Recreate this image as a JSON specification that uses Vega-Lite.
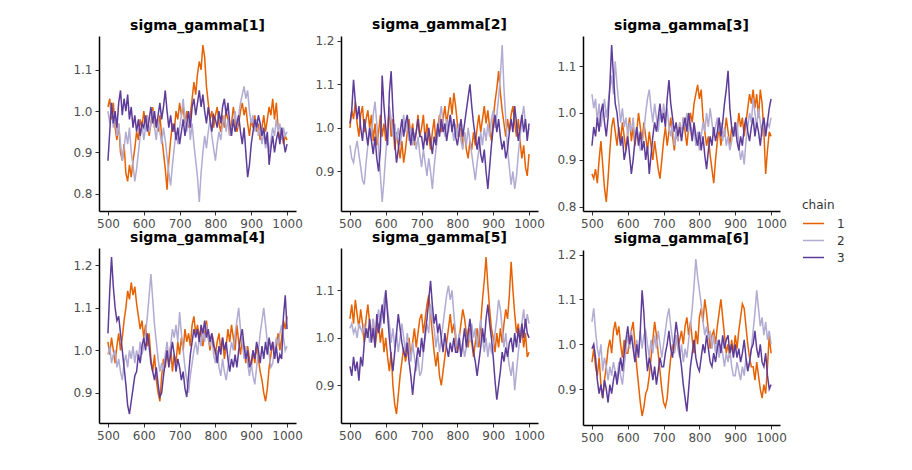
{
"$schema":"https://vega.github.io/schema/vega-lite/v6.json",
"padding":{"left":72,"top":17,"right":5,"bottom":5},
"background":"white",
"data":{"values":[
{"i":500,"c":1,"1":1.01,"2":1.00,"3":0.87,"4":1.02,"5":1.04,"6":0.96},
{"i":505,"c":1,"1":1.03,"2":1.04,"3":0.86,"4":0.99,"5":1.07,"6":0.99},
{"i":510,"c":1,"1":0.98,"2":1.02,"3":0.88,"4":1.03,"5":1.03,"6":0.95},
{"i":515,"c":1,"1":1.02,"2":1.06,"3":0.85,"4":1.00,"5":1.08,"6":0.93},
{"i":520,"c":1,"1":0.96,"2":1.01,"3":0.90,"4":0.97,"5":1.05,"6":0.97},
{"i":525,"c":1,"1":0.93,"2":0.98,"3":0.94,"4":1.01,"5":1.02,"6":0.91},
{"i":530,"c":1,"1":0.97,"2":1.03,"3":0.89,"4":1.04,"5":1.06,"6":0.88},
{"i":535,"c":1,"1":0.90,"2":1.05,"3":0.84,"4":1.00,"5":1.03,"6":0.92},
{"i":540,"c":1,"1":0.88,"2":0.99,"3":0.81,"4":1.03,"5":0.99,"6":0.95},
{"i":545,"c":1,"1":0.92,"2":1.02,"3":0.86,"4":1.07,"5":1.04,"6":0.99},
{"i":550,"c":1,"1":0.85,"2":1.04,"3":0.92,"4":1.10,"5":1.07,"6":1.01},
{"i":555,"c":1,"1":0.83,"2":1.00,"3":0.97,"4":1.14,"5":1.03,"6":0.98},
{"i":560,"c":1,"1":0.87,"2":1.03,"3":0.99,"4":1.12,"5":1.00,"6":1.03},
{"i":565,"c":1,"1":0.84,"2":0.97,"3":0.96,"4":1.16,"5":1.04,"6":1.05},
{"i":570,"c":1,"1":0.88,"2":1.01,"3":0.93,"4":1.13,"5":0.98,"6":1.02},
{"i":575,"c":1,"1":0.91,"2":0.96,"3":0.97,"4":1.15,"5":1.01,"6":1.04},
{"i":580,"c":1,"1":0.95,"2":0.99,"3":0.94,"4":1.11,"5":1.03,"6":1.00},
{"i":585,"c":1,"1":0.93,"2":1.03,"3":0.98,"4":1.08,"5":0.99,"6":0.97},
{"i":590,"c":1,"1":0.98,"2":0.98,"3":0.95,"4":1.05,"5":1.02,"6":1.01},
{"i":595,"c":1,"1":0.96,"2":1.01,"3":0.92,"4":1.07,"5":0.97,"6":0.98},
{"i":600,"c":1,"1":1.00,"2":0.97,"3":0.96,"4":1.03,"5":1.00,"6":0.98},
{"i":605,"c":1,"1":0.97,"2":1.00,"3":0.99,"4":1.06,"5":0.96,"6":1.01},
{"i":610,"c":1,"1":0.99,"2":1.04,"3":0.94,"4":1.01,"5":0.93,"6":1.03},
{"i":615,"c":1,"1":0.94,"2":0.98,"3":0.97,"4":1.04,"5":0.97,"6":1.05},
{"i":620,"c":1,"1":0.97,"2":1.02,"3":0.93,"4":0.98,"5":0.90,"6":1.00},
{"i":625,"c":1,"1":1.01,"2":0.95,"3":0.96,"4":0.95,"5":0.86,"6":0.95},
{"i":630,"c":1,"1":0.96,"2":0.99,"3":1.00,"4":0.99,"5":0.84,"6":0.91},
{"i":635,"c":1,"1":0.98,"2":0.96,"3":0.97,"4":0.93,"5":0.88,"6":0.87},
{"i":640,"c":1,"1":0.95,"2":0.93,"3":0.94,"4":0.90,"5":0.92,"6":0.84},
{"i":645,"c":1,"1":0.99,"2":0.97,"3":0.98,"4":0.88,"5":0.95,"6":0.86},
{"i":650,"c":1,"1":0.94,"2":0.92,"3":0.95,"4":0.94,"5":0.98,"6":0.89},
{"i":655,"c":1,"1":0.90,"2":0.95,"3":0.92,"4":0.98,"5":0.95,"6":0.90},
{"i":660,"c":1,"1":0.86,"2":0.99,"3":0.96,"4":0.96,"5":0.97,"6":0.93},
{"i":665,"c":1,"1":0.81,"2":1.02,"3":0.93,"4":1.00,"5":1.00,"6":0.97},
{"i":670,"c":1,"1":0.88,"2":0.98,"3":0.90,"4":0.97,"5":0.96,"6":1.01},
{"i":675,"c":1,"1":0.93,"2":1.01,"3":0.94,"4":1.01,"5":0.99,"6":1.05},
{"i":680,"c":1,"1":0.97,"2":0.96,"3":0.91,"4":0.95,"5":1.02,"6":1.02},
{"i":685,"c":1,"1":0.95,"2":0.99,"3":0.88,"4":0.99,"5":0.98,"6":0.98},
{"i":690,"c":1,"1":1.00,"2":1.03,"3":0.86,"4":0.97,"5":1.01,"6":0.94},
{"i":695,"c":1,"1":0.98,"2":0.98,"3":0.90,"4":1.02,"5":1.04,"6":0.90},
{"i":700,"c":1,"1":1.02,"2":1.00,"3":0.94,"4":0.99,"5":1.05,"6":0.87},
{"i":705,"c":1,"1":0.99,"2":1.03,"3":0.97,"4":1.03,"5":1.01,"6":0.86},
{"i":710,"c":1,"1":1.01,"2":0.97,"3":0.93,"4":1.00,"5":1.04,"6":0.88},
{"i":715,"c":1,"1":0.97,"2":1.01,"3":0.96,"4":1.05,"5":1.07,"6":0.93},
{"i":720,"c":1,"1":1.00,"2":0.98,"3":0.99,"4":1.02,"5":1.09,"6":0.97},
{"i":725,"c":1,"1":0.96,"2":0.95,"3":0.95,"4":1.04,"5":1.05,"6":1.00},
{"i":730,"c":1,"1":0.99,"2":0.99,"3":0.92,"4":1.01,"5":1.01,"6":0.98},
{"i":735,"c":1,"1":1.03,"2":1.02,"3":0.96,"4":1.06,"5":0.97,"6":1.02},
{"i":740,"c":1,"1":1.07,"2":0.97,"3":0.94,"4":1.08,"5":0.94,"6":0.99},
{"i":745,"c":1,"1":1.04,"2":1.00,"3":0.98,"4":1.04,"5":0.97,"6":1.01},
{"i":750,"c":1,"1":1.09,"2":1.03,"3":0.95,"4":1.06,"5":0.92,"6":1.03},
{"i":755,"c":1,"1":1.12,"2":0.99,"3":0.99,"4":1.03,"5":0.90,"6":1.00},
{"i":760,"c":1,"1":1.10,"2":1.02,"3":0.96,"4":1.05,"5":0.93,"6":1.04},
{"i":765,"c":1,"1":1.16,"2":1.05,"3":0.93,"4":1.01,"5":0.96,"6":1.06},
{"i":770,"c":1,"1":1.13,"2":1.01,"3":0.97,"4":1.04,"5":0.99,"6":1.02},
{"i":775,"c":1,"1":1.06,"2":1.04,"3":1.00,"4":1.07,"5":1.02,"6":1.05},
{"i":780,"c":1,"1":1.02,"2":1.07,"3":0.98,"4":1.03,"5":1.05,"6":1.01},
{"i":785,"c":1,"1":0.98,"2":1.03,"3":1.02,"4":1.00,"5":1.01,"6":0.98},
{"i":790,"c":1,"1":1.00,"2":1.08,"3":1.04,"4":1.04,"5":1.03,"6":1.03},
{"i":795,"c":1,"1":0.96,"2":1.05,"3":1.06,"4":1.02,"5":1.00,"6":1.00},
{"i":800,"c":1,"1":0.99,"2":1.01,"3":1.03,"4":0.99,"5":0.97,"6":1.06},
{"i":805,"c":1,"1":1.01,"2":0.98,"3":1.05,"4":1.02,"5":1.00,"6":1.08},
{"i":810,"c":1,"1":0.97,"2":1.00,"3":0.99,"4":1.04,"5":1.03,"6":1.05},
{"i":815,"c":1,"1":0.95,"2":0.96,"3":0.96,"4":1.00,"5":1.06,"6":1.10},
{"i":820,"c":1,"1":0.99,"2":0.99,"3":0.93,"4":1.03,"5":1.04,"6":1.07},
{"i":825,"c":1,"1":0.96,"2":0.95,"3":0.95,"4":0.98,"5":1.01,"6":1.03},
{"i":830,"c":1,"1":1.00,"2":0.93,"3":0.91,"4":1.01,"5":0.98,"6":0.99},
{"i":835,"c":1,"1":0.98,"2":0.97,"3":0.88,"4":1.05,"5":1.02,"6":1.02},
{"i":840,"c":1,"1":0.94,"2":0.95,"3":0.85,"4":1.02,"5":0.99,"6":1.03},
{"i":845,"c":1,"1":0.97,"2":0.99,"3":0.90,"4":1.06,"5":0.96,"6":1.00},
{"i":850,"c":1,"1":1.01,"2":0.96,"3":0.94,"4":1.03,"5":0.99,"6":1.04},
{"i":855,"c":1,"1":0.98,"2":1.00,"3":0.97,"4":1.00,"5":1.02,"6":1.07},
{"i":860,"c":1,"1":0.95,"2":1.03,"3":0.93,"4":1.06,"5":0.98,"6":1.10},
{"i":865,"c":1,"1":0.97,"2":0.99,"3":0.96,"4":1.02,"5":1.03,"6":1.06},
{"i":870,"c":1,"1":1.00,"2":1.02,"3":0.95,"4":0.99,"5":1.08,"6":1.02},
{"i":875,"c":1,"1":1.02,"2":1.05,"3":0.99,"4":1.03,"5":1.12,"6":0.98},
{"i":880,"c":1,"1":0.99,"2":1.01,"3":0.96,"4":1.00,"5":1.17,"6":1.00},
{"i":885,"c":1,"1":1.01,"2":1.04,"3":0.93,"4":0.97,"5":1.11,"6":0.97},
{"i":890,"c":1,"1":0.97,"2":1.00,"3":0.97,"4":1.01,"5":1.06,"6":1.01},
{"i":895,"c":1,"1":0.94,"2":0.97,"3":0.95,"4":0.98,"5":1.02,"6":0.98},
{"i":900,"c":1,"1":0.98,"2":1.02,"3":0.98,"4":0.96,"5":1.00,"6":1.02},
{"i":905,"c":1,"1":0.96,"2":1.06,"3":0.96,"4":1.00,"5":0.97,"6":0.99},
{"i":910,"c":1,"1":0.99,"2":1.09,"3":1.00,"4":0.97,"5":1.01,"6":1.03},
{"i":915,"c":1,"1":0.95,"2":1.13,"3":0.97,"4":1.01,"5":0.98,"6":1.06},
{"i":920,"c":1,"1":0.97,"2":1.08,"3":0.99,"4":0.98,"5":1.02,"6":1.09},
{"i":925,"c":1,"1":0.93,"2":1.04,"3":0.95,"4":0.95,"5":0.99,"6":1.08},
{"i":930,"c":1,"1":0.96,"2":1.01,"3":0.98,"4":0.93,"5":1.03,"6":1.04},
{"i":935,"c":1,"1":0.99,"2":0.98,"3":1.01,"4":0.90,"5":1.06,"6":1.00},
{"i":940,"c":1,"1":0.95,"2":1.02,"3":1.04,"4":0.88,"5":1.04,"6":0.97},
{"i":945,"c":1,"1":0.98,"2":0.99,"3":1.02,"4":0.91,"5":1.09,"6":0.95},
{"i":950,"c":1,"1":1.01,"2":1.03,"3":1.05,"4":0.96,"5":1.16,"6":0.95},
{"i":955,"c":1,"1":0.99,"2":1.05,"3":1.01,"4":0.99,"5":1.10,"6":0.92},
{"i":960,"c":1,"1":1.03,"2":1.01,"3":1.04,"4":1.02,"5":1.05,"6":0.96},
{"i":965,"c":1,"1":0.98,"2":0.98,"3":0.99,"4":0.98,"5":1.01,"6":0.93},
{"i":970,"c":1,"1":1.02,"2":1.02,"3":1.05,"4":1.01,"5":1.03,"6":0.90},
{"i":975,"c":1,"1":0.96,"2":0.97,"3":1.02,"4":1.04,"5":0.99,"6":0.88},
{"i":980,"c":1,"1":0.93,"2":0.93,"3":0.96,"4":1.00,"5":1.02,"6":0.91},
{"i":985,"c":1,"1":0.95,"2":0.96,"3":0.87,"4":1.03,"5":0.98,"6":0.89},
{"i":990,"c":1,"1":0.92,"2":0.91,"3":0.92,"4":1.07,"5":1.01,"6":0.95},
{"i":995,"c":1,"1":0.94,"2":0.89,"3":0.96,"4":1.05,"5":0.96,"6":1.02},
{"i":1000,"c":1,"1":0.93,"2":0.94,"3":0.95,"4":1.08,"5":0.97,"6":0.98},
{"i":500,"c":2,"1":1.00,"2":0.96,"3":1.04,"4":0.99,"5":1.02,"6":1.05},
{"i":505,"c":2,"1":0.97,"2":0.93,"3":1.01,"4":1.01,"5":1.03,"6":1.08},
{"i":510,"c":2,"1":1.02,"2":0.92,"3":1.03,"4":0.97,"5":1.01,"6":1.03},
{"i":515,"c":2,"1":0.96,"2":0.95,"3":0.98,"4":0.99,"5":1.02,"6":0.99},
{"i":520,"c":2,"1":0.99,"2":0.97,"3":1.02,"4":1.00,"5":1.00,"6":0.97},
{"i":525,"c":2,"1":0.94,"2":0.94,"3":0.97,"4":0.96,"5":1.03,"6":1.00},
{"i":530,"c":2,"1":0.97,"2":0.91,"3":1.00,"4":0.98,"5":1.02,"6":0.94},
{"i":535,"c":2,"1":0.92,"2":0.88,"3":1.03,"4":0.95,"5":1.01,"6":0.97},
{"i":540,"c":2,"1":0.88,"2":0.87,"3":0.99,"4":0.93,"5":1.03,"6":0.95},
{"i":545,"c":2,"1":0.91,"2":0.92,"3":1.02,"4":0.97,"5":1.00,"6":0.92},
{"i":550,"c":2,"1":0.95,"2":0.96,"3":1.05,"4":0.99,"5":1.02,"6":0.95},
{"i":555,"c":2,"1":0.92,"2":1.00,"3":1.08,"4":0.96,"5":0.99,"6":0.93},
{"i":560,"c":2,"1":0.96,"2":0.98,"3":1.04,"4":1.00,"5":1.01,"6":0.96},
{"i":565,"c":2,"1":0.90,"2":1.03,"3":1.11,"4":0.98,"5":1.04,"6":0.94},
{"i":570,"c":2,"1":0.87,"2":1.06,"3":1.06,"4":1.01,"5":1.00,"6":0.92},
{"i":575,"c":2,"1":0.83,"2":1.01,"3":1.02,"4":0.97,"5":1.03,"6":0.96},
{"i":580,"c":2,"1":0.86,"2":0.95,"3":0.98,"4":1.00,"5":1.06,"6":0.93},
{"i":585,"c":2,"1":0.90,"2":0.89,"3":1.01,"4":0.98,"5":1.02,"6":0.91},
{"i":590,"c":2,"1":0.94,"2":0.83,"3":0.97,"4":1.02,"5":1.05,"6":0.95},
{"i":595,"c":2,"1":0.97,"2":0.88,"3":0.99,"4":0.99,"5":1.08,"6":0.99},
{"i":600,"c":2,"1":0.93,"2":0.94,"3":0.95,"4":1.01,"5":1.10,"6":1.02},
{"i":605,"c":2,"1":0.96,"2":0.99,"3":0.98,"4":1.04,"5":1.06,"6":0.99},
{"i":610,"c":2,"1":0.99,"2":1.05,"3":0.96,"4":1.08,"5":1.03,"6":1.03},
{"i":615,"c":2,"1":0.95,"2":1.02,"3":0.99,"4":1.13,"5":0.99,"6":1.00},
{"i":620,"c":2,"1":0.97,"2":0.98,"3":0.94,"4":1.18,"5":1.02,"6":0.97},
{"i":625,"c":2,"1":1.00,"2":1.01,"3":0.97,"4":1.12,"5":0.98,"6":1.01},
{"i":630,"c":2,"1":0.96,"2":0.97,"3":0.95,"4":1.06,"5":1.01,"6":0.98},
{"i":635,"c":2,"1":0.93,"2":1.00,"3":0.92,"4":1.02,"5":0.97,"6":1.03},
{"i":640,"c":2,"1":0.98,"2":0.96,"3":0.93,"4":0.98,"5":1.00,"6":0.99},
{"i":645,"c":2,"1":0.95,"2":0.99,"3":0.96,"4":0.95,"5":1.03,"6":1.02},
{"i":650,"c":2,"1":0.92,"2":1.03,"3":1.00,"4":0.97,"5":1.00,"6":1.03},
{"i":655,"c":2,"1":0.96,"2":0.99,"3":1.03,"4":0.95,"5":0.97,"6":1.00},
{"i":660,"c":2,"1":0.93,"2":1.02,"3":1.05,"4":0.99,"5":1.01,"6":0.97},
{"i":665,"c":2,"1":0.89,"2":0.97,"3":1.01,"4":1.02,"5":0.98,"6":1.01},
{"i":670,"c":2,"1":0.85,"2":1.00,"3":0.98,"4":0.98,"5":0.95,"6":0.98},
{"i":675,"c":2,"1":0.82,"2":0.96,"3":1.02,"4":1.01,"5":0.99,"6":1.02},
{"i":680,"c":2,"1":0.87,"2":0.99,"3":0.99,"4":1.05,"5":0.96,"6":0.99},
{"i":685,"c":2,"1":0.91,"2":0.95,"3":0.96,"4":1.03,"5":0.93,"6":1.03},
{"i":690,"c":2,"1":0.95,"2":0.98,"3":1.00,"4":1.06,"5":0.96,"6":1.00},
{"i":695,"c":2,"1":0.92,"2":0.94,"3":0.98,"4":1.02,"5":0.92,"6":0.97},
{"i":700,"c":2,"1":0.96,"2":0.91,"3":1.02,"4":1.09,"5":0.93,"6":1.00},
{"i":705,"c":2,"1":0.99,"2":0.95,"3":0.99,"4":1.04,"5":0.97,"6":1.03},
{"i":710,"c":2,"1":1.03,"2":0.92,"3":1.01,"4":1.00,"5":1.00,"6":1.06},
{"i":715,"c":2,"1":0.98,"2":0.89,"3":0.97,"4":0.96,"5":1.03,"6":1.08},
{"i":720,"c":2,"1":0.95,"2":0.93,"3":0.95,"4":0.93,"5":1.01,"6":1.04},
{"i":725,"c":2,"1":0.99,"2":0.90,"3":0.98,"4":0.90,"5":1.07,"6":1.01},
{"i":730,"c":2,"1":0.93,"2":0.86,"3":0.93,"4":0.94,"5":1.04,"6":0.98},
{"i":735,"c":2,"1":0.97,"2":0.91,"3":0.96,"4":0.97,"5":1.02,"6":1.02},
{"i":740,"c":2,"1":0.92,"2":0.95,"3":0.94,"4":1.00,"5":0.98,"6":0.99},
{"i":745,"c":2,"1":0.88,"2":0.98,"3":0.98,"4":1.02,"5":1.01,"6":0.97},
{"i":750,"c":2,"1":0.84,"2":1.02,"3":0.95,"4":0.99,"5":0.97,"6":1.00},
{"i":755,"c":2,"1":0.78,"2":1.05,"3":0.99,"4":1.03,"5":1.00,"6":0.96},
{"i":760,"c":2,"1":0.85,"2":1.01,"3":0.97,"4":1.01,"5":1.03,"6":0.99},
{"i":765,"c":2,"1":0.90,"2":0.98,"3":1.00,"4":1.05,"5":1.06,"6":0.97},
{"i":770,"c":2,"1":0.94,"2":1.02,"3":0.96,"4":1.02,"5":1.09,"6":1.01},
{"i":775,"c":2,"1":0.91,"2":0.99,"3":0.98,"4":1.06,"5":1.11,"6":1.04},
{"i":780,"c":2,"1":0.95,"2":1.03,"3":0.95,"4":1.03,"5":1.08,"6":1.08},
{"i":785,"c":2,"1":0.98,"2":1.00,"3":0.97,"4":1.01,"5":1.10,"6":1.13},
{"i":790,"c":2,"1":0.94,"2":0.97,"3":0.93,"4":1.04,"5":1.05,"6":1.19},
{"i":795,"c":2,"1":0.91,"2":1.01,"3":0.96,"4":0.99,"5":1.01,"6":1.15},
{"i":800,"c":2,"1":0.88,"2":0.98,"3":0.92,"4":0.97,"5":0.98,"6":1.12},
{"i":805,"c":2,"1":0.92,"2":1.01,"3":0.95,"4":1.00,"5":1.01,"6":1.09},
{"i":810,"c":2,"1":0.95,"2":0.97,"3":0.98,"4":0.96,"5":0.96,"6":1.05},
{"i":815,"c":2,"1":0.93,"2":0.95,"3":0.96,"4":0.94,"5":0.99,"6":1.02},
{"i":820,"c":2,"1":0.97,"2":0.99,"3":1.00,"4":0.98,"5":0.96,"6":1.04},
{"i":825,"c":2,"1":0.99,"2":0.96,"3":0.97,"4":0.95,"5":0.98,"6":1.01},
{"i":830,"c":2,"1":0.95,"2":1.00,"3":1.01,"4":0.93,"5":1.02,"6":1.03},
{"i":835,"c":2,"1":0.98,"2":0.97,"3":0.98,"4":0.96,"5":0.99,"6":0.99},
{"i":840,"c":2,"1":0.94,"2":0.94,"3":0.95,"4":0.99,"5":1.03,"6":1.02},
{"i":845,"c":2,"1":0.96,"2":0.91,"3":0.97,"4":1.02,"5":1.00,"6":0.98},
{"i":850,"c":2,"1":0.97,"2":0.88,"3":0.99,"4":1.00,"5":1.02,"6":1.01},
{"i":855,"c":2,"1":1.00,"2":0.92,"3":0.96,"4":1.04,"5":0.98,"6":0.97},
{"i":860,"c":2,"1":0.96,"2":0.95,"3":0.98,"4":1.07,"5":1.01,"6":1.00},
{"i":865,"c":2,"1":0.99,"2":0.99,"3":0.94,"4":1.10,"5":1.04,"6":0.98},
{"i":870,"c":2,"1":1.02,"2":0.96,"3":0.97,"4":1.05,"5":1.00,"6":0.95},
{"i":875,"c":2,"1":1.04,"2":1.00,"3":0.93,"4":1.02,"5":0.97,"6":0.98},
{"i":880,"c":2,"1":1.06,"2":0.97,"3":0.95,"4":0.98,"5":1.00,"6":0.96},
{"i":885,"c":2,"1":1.03,"2":1.01,"3":0.92,"4":1.01,"5":0.96,"6":0.99},
{"i":890,"c":2,"1":1.05,"2":0.98,"3":0.94,"4":0.97,"5":0.99,"6":0.95},
{"i":895,"c":2,"1":1.00,"2":1.02,"3":0.97,"4":0.94,"5":0.97,"6":0.93},
{"i":900,"c":2,"1":0.97,"2":1.04,"3":0.95,"4":0.97,"5":0.98,"6":0.93},
{"i":905,"c":2,"1":0.99,"2":1.00,"3":0.98,"4":0.94,"5":1.01,"6":0.96},
{"i":910,"c":2,"1":0.95,"2":1.03,"3":0.93,"4":0.92,"5":1.04,"6":0.94},
{"i":915,"c":2,"1":0.98,"2":1.07,"3":0.90,"4":0.96,"5":1.08,"6":0.92},
{"i":920,"c":2,"1":0.94,"2":1.12,"3":0.92,"4":1.00,"5":1.06,"6":0.95},
{"i":925,"c":2,"1":0.96,"2":1.19,"3":0.89,"4":1.04,"5":1.02,"6":0.93},
{"i":930,"c":2,"1":0.92,"2":1.09,"3":0.94,"4":1.07,"5":0.98,"6":0.97},
{"i":935,"c":2,"1":0.95,"2":1.02,"3":0.97,"4":1.10,"5":1.01,"6":0.94},
{"i":940,"c":2,"1":0.91,"2":0.95,"3":1.00,"4":1.06,"5":0.97,"6":0.96},
{"i":945,"c":2,"1":0.93,"2":0.91,"3":0.98,"4":1.02,"5":0.94,"6":0.99},
{"i":950,"c":2,"1":0.90,"2":0.87,"3":1.03,"4":0.99,"5":0.92,"6":1.03},
{"i":955,"c":2,"1":0.93,"2":0.90,"3":1.00,"4":0.96,"5":0.95,"6":1.07},
{"i":960,"c":2,"1":0.96,"2":0.86,"3":0.97,"4":0.97,"5":0.89,"6":1.12},
{"i":965,"c":2,"1":0.94,"2":0.89,"3":1.01,"4":1.00,"5":0.93,"6":1.08},
{"i":970,"c":2,"1":0.98,"2":0.94,"3":0.98,"4":1.03,"5":0.97,"6":1.04},
{"i":975,"c":2,"1":0.95,"2":0.98,"3":0.95,"4":1.01,"5":1.00,"6":1.06},
{"i":980,"c":2,"1":0.97,"2":1.02,"3":0.99,"4":1.04,"5":1.03,"6":1.02},
{"i":985,"c":2,"1":0.93,"2":1.05,"3":0.96,"4":1.06,"5":1.06,"6":1.05},
{"i":990,"c":2,"1":0.96,"2":1.01,"3":0.98,"4":1.03,"5":1.02,"6":1.01},
{"i":995,"c":2,"1":0.94,"2":0.98,"3":0.97,"4":1.00,"5":1.05,"6":1.03},
{"i":1000,"c":2,"1":0.95,"2":1.00,"3":0.99,"4":1.01,"5":1.03,"6":1.00},
{"i":500,"c":3,"1":0.88,"2":1.01,"3":0.93,"4":1.04,"5":0.94,"6":0.99},
{"i":505,"c":3,"1":0.95,"2":1.04,"3":0.97,"4":1.14,"5":0.92,"6":1.00},
{"i":510,"c":3,"1":1.02,"2":1.11,"3":0.95,"4":1.22,"5":0.96,"6":0.97},
{"i":515,"c":3,"1":0.97,"2":1.06,"3":0.99,"4":1.15,"5":0.93,"6":0.92},
{"i":520,"c":3,"1":1.00,"2":1.02,"3":0.96,"4":1.10,"5":0.95,"6":0.89},
{"i":525,"c":3,"1":0.96,"2":1.05,"3":1.00,"4":1.07,"5":0.91,"6":0.91},
{"i":530,"c":3,"1":1.02,"2":1.00,"3":1.02,"4":1.08,"5":0.96,"6":0.88},
{"i":535,"c":3,"1":1.05,"2":0.97,"3":0.98,"4":1.04,"5":0.94,"6":0.92},
{"i":540,"c":3,"1":0.99,"2":1.02,"3":0.95,"4":1.00,"5":0.99,"6":0.90},
{"i":545,"c":3,"1":1.03,"2":0.99,"3":0.99,"4":0.96,"5":1.02,"6":0.87},
{"i":550,"c":3,"1":1.00,"2":0.96,"3":1.06,"4":0.92,"5":1.00,"6":0.91},
{"i":555,"c":3,"1":1.04,"2":1.00,"3":1.145,"4":0.87,"5":1.04,"6":0.89},
{"i":560,"c":3,"1":0.98,"2":0.97,"3":1.08,"4":0.85,"5":0.99,"6":0.92},
{"i":565,"c":3,"1":1.01,"2":0.94,"3":1.02,"4":0.88,"5":1.02,"6":0.94},
{"i":570,"c":3,"1":0.96,"2":0.98,"3":1.00,"4":0.91,"5":0.98,"6":0.91},
{"i":575,"c":3,"1":0.99,"2":0.93,"3":0.96,"4":0.94,"5":1.05,"6":0.94},
{"i":580,"c":3,"1":0.95,"2":0.90,"3":0.93,"4":0.95,"5":1.01,"6":0.97},
{"i":585,"c":3,"1":0.98,"2":0.95,"3":0.95,"4":0.99,"5":1.04,"6":0.94},
{"i":590,"c":3,"1":0.94,"2":1.12,"3":0.90,"4":0.97,"5":1.07,"6":0.98},
{"i":595,"c":3,"1":0.97,"2":1.05,"3":0.92,"4":1.01,"5":1.03,"6":1.01},
{"i":600,"c":3,"1":0.96,"2":1.00,"3":0.95,"4":1.03,"5":1.10,"6":1.04},
{"i":605,"c":3,"1":0.99,"2":0.96,"3":0.91,"4":1.00,"5":1.05,"6":1.00},
{"i":610,"c":3,"1":0.95,"2":1.08,"3":0.87,"4":1.04,"5":1.00,"6":1.02},
{"i":615,"c":3,"1":0.98,"2":1.13,"3":0.90,"4":1.01,"5":0.96,"6":0.99},
{"i":620,"c":3,"1":1.01,"2":1.04,"3":0.94,"4":0.97,"5":0.93,"6":0.96},
{"i":625,"c":3,"1":0.97,"2":0.97,"3":0.97,"4":0.95,"5":0.97,"6":1.00},
{"i":630,"c":3,"1":1.00,"2":0.92,"3":0.93,"4":0.93,"5":1.01,"6":0.97},
{"i":635,"c":3,"1":0.96,"2":0.95,"3":0.96,"4":0.96,"5":1.05,"6":1.03},
{"i":640,"c":3,"1":0.99,"2":0.99,"3":0.92,"4":0.92,"5":1.02,"6":1.12},
{"i":645,"c":3,"1":1.02,"2":1.02,"3":0.94,"4":0.89,"5":0.99,"6":1.07},
{"i":650,"c":3,"1":0.98,"2":0.98,"3":0.90,"4":0.90,"5":0.97,"6":0.99},
{"i":655,"c":3,"1":1.01,"2":1.01,"3":0.93,"4":0.94,"5":0.96,"6":0.94},
{"i":660,"c":3,"1":1.05,"2":1.03,"3":0.87,"4":0.97,"5":0.99,"6":0.97},
{"i":665,"c":3,"1":1.00,"2":0.99,"3":0.91,"4":1.00,"5":0.95,"6":0.95},
{"i":670,"c":3,"1":0.96,"2":0.96,"3":0.95,"4":0.96,"5":0.92,"6":0.92},
{"i":675,"c":3,"1":0.99,"2":1.00,"3":0.98,"4":0.99,"5":0.88,"6":0.95},
{"i":680,"c":3,"1":0.95,"2":0.97,"3":0.96,"4":1.02,"5":0.92,"6":0.91},
{"i":685,"c":3,"1":0.97,"2":0.99,"3":0.99,"4":0.99,"5":0.95,"6":0.94},
{"i":690,"c":3,"1":0.93,"2":1.02,"3":1.02,"4":0.95,"5":0.98,"6":0.97},
{"i":695,"c":3,"1":0.96,"2":0.98,"3":0.98,"4":0.98,"5":0.96,"6":0.95},
{"i":700,"c":3,"1":0.92,"2":0.98,"3":1.00,"4":0.96,"5":1.00,"6":0.95},
{"i":705,"c":3,"1":0.95,"2":0.95,"3":0.97,"4":0.93,"5":0.97,"6":0.98},
{"i":710,"c":3,"1":0.98,"2":0.99,"3":1.03,"4":0.95,"5":1.01,"6":1.00},
{"i":715,"c":3,"1":0.94,"2":0.96,"3":1.07,"4":0.91,"5":1.04,"6":1.03},
{"i":720,"c":3,"1":0.97,"2":1.00,"3":1.02,"4":0.89,"5":1.08,"6":0.99},
{"i":725,"c":3,"1":1.00,"2":0.97,"3":0.99,"4":0.94,"5":1.12,"6":0.97},
{"i":730,"c":3,"1":0.96,"2":0.94,"3":0.96,"4":0.99,"5":1.07,"6":1.01},
{"i":735,"c":3,"1":1.01,"2":0.98,"3":0.98,"4":1.02,"5":1.03,"6":1.05},
{"i":740,"c":3,"1":1.03,"2":0.96,"3":0.95,"4":1.05,"5":1.05,"6":1.02},
{"i":745,"c":3,"1":0.99,"2":1.01,"3":0.97,"4":1.03,"5":1.01,"6":0.98},
{"i":750,"c":3,"1":1.02,"2":0.98,"3":0.94,"4":1.05,"5":1.03,"6":0.95},
{"i":755,"c":3,"1":1.05,"2":1.02,"3":0.97,"4":1.02,"5":1.00,"6":0.91},
{"i":760,"c":3,"1":1.01,"2":0.99,"3":0.99,"4":1.06,"5":0.97,"6":0.88},
{"i":765,"c":3,"1":1.04,"2":1.01,"3":0.96,"4":1.04,"5":1.01,"6":0.85},
{"i":770,"c":3,"1":1.00,"2":0.97,"3":1.00,"4":1.07,"5":0.98,"6":0.90},
{"i":775,"c":3,"1":0.97,"2":1.00,"3":0.97,"4":1.03,"5":0.96,"6":0.95},
{"i":780,"c":3,"1":1.01,"2":1.03,"3":0.94,"4":1.05,"5":0.99,"6":0.98},
{"i":785,"c":3,"1":0.98,"2":0.99,"3":0.98,"4":1.02,"5":0.97,"6":1.01},
{"i":790,"c":3,"1":0.95,"2":1.02,"3":0.95,"4":1.04,"5":1.00,"6":0.97},
{"i":795,"c":3,"1":0.99,"2":0.98,"3":0.93,"4":1.01,"5":0.97,"6":0.95},
{"i":800,"c":3,"1":0.98,"2":0.96,"3":0.96,"4":1.00,"5":0.97,"6":0.94},
{"i":805,"c":3,"1":0.96,"2":0.99,"3":0.92,"4":0.97,"5":1.00,"6":0.97},
{"i":810,"c":3,"1":1.00,"2":1.02,"3":0.95,"4":1.01,"5":0.96,"6":1.00},
{"i":815,"c":3,"1":0.97,"2":0.98,"3":0.91,"4":0.99,"5":0.99,"6":0.98},
{"i":820,"c":3,"1":1.01,"2":1.01,"3":0.88,"4":1.03,"5":1.02,"6":1.02},
{"i":825,"c":3,"1":1.03,"2":1.04,"3":0.92,"4":1.00,"5":0.98,"6":0.99},
{"i":830,"c":3,"1":0.99,"2":1.07,"3":0.95,"4":1.02,"5":1.01,"6":0.96},
{"i":835,"c":3,"1":1.02,"2":1.10,"3":0.93,"4":0.98,"5":1.04,"6":0.95},
{"i":840,"c":3,"1":0.97,"2":1.05,"3":0.97,"4":0.95,"5":1.00,"6":0.98},
{"i":845,"c":3,"1":0.94,"2":1.01,"3":0.94,"4":0.98,"5":0.97,"6":0.96},
{"i":850,"c":3,"1":0.98,"2":0.98,"3":0.96,"4":0.96,"5":0.95,"6":0.99},
{"i":855,"c":3,"1":0.95,"2":0.95,"3":0.99,"4":0.99,"5":0.92,"6":1.01},
{"i":860,"c":3,"1":0.97,"2":0.98,"3":0.95,"4":0.96,"5":0.95,"6":0.98},
{"i":865,"c":3,"1":0.99,"2":0.94,"3":0.98,"4":1.00,"5":0.98,"6":1.02},
{"i":870,"c":3,"1":0.95,"2":0.92,"3":1.02,"4":1.03,"5":1.02,"6":0.99},
{"i":875,"c":3,"1":0.92,"2":0.95,"3":1.05,"4":1.05,"5":0.99,"6":1.01},
{"i":880,"c":3,"1":0.96,"2":0.90,"3":1.09,"4":1.01,"5":1.04,"6":1.02},
{"i":885,"c":3,"1":0.90,"2":0.86,"3":1.01,"4":0.98,"5":1.07,"6":0.98},
{"i":890,"c":3,"1":0.84,"2":0.91,"3":0.97,"4":1.00,"5":1.03,"6":1.00},
{"i":895,"c":3,"1":0.87,"2":0.96,"3":0.95,"4":0.96,"5":1.00,"6":0.97},
{"i":900,"c":3,"1":0.92,"2":1.00,"3":0.98,"4":0.97,"5":0.96,"6":1.00},
{"i":905,"c":3,"1":0.95,"2":1.03,"3":0.94,"4":1.00,"5":0.91,"6":0.97},
{"i":910,"c":3,"1":0.98,"2":0.99,"3":0.92,"4":0.98,"5":0.87,"6":0.99},
{"i":915,"c":3,"1":0.96,"2":1.02,"3":0.95,"4":1.02,"5":0.90,"6":0.96},
{"i":920,"c":3,"1":0.99,"2":0.98,"3":0.93,"4":1.00,"5":0.93,"6":0.98},
{"i":925,"c":3,"1":0.97,"2":0.95,"3":0.97,"4":0.97,"5":0.97,"6":1.01},
{"i":930,"c":3,"1":0.94,"2":0.97,"3":0.99,"4":1.01,"5":0.95,"6":0.97},
{"i":935,"c":3,"1":0.96,"2":0.93,"3":0.96,"4":0.98,"5":0.98,"6":0.94},
{"i":940,"c":3,"1":0.92,"2":0.95,"3":0.94,"4":1.02,"5":0.96,"6":0.96},
{"i":945,"c":3,"1":0.95,"2":0.99,"3":0.97,"4":0.99,"5":0.99,"6":0.99},
{"i":950,"c":3,"1":0.87,"2":1.02,"3":0.99,"4":1.03,"5":1.00,"6":1.00},
{"i":955,"c":3,"1":0.91,"2":0.99,"3":0.95,"4":1.00,"5":0.97,"6":1.03},
{"i":960,"c":3,"1":0.94,"2":1.05,"3":0.98,"4":1.02,"5":1.01,"6":0.99},
{"i":965,"c":3,"1":0.90,"2":1.01,"3":0.96,"4":0.98,"5":0.98,"6":0.97},
{"i":970,"c":3,"1":0.93,"2":0.97,"3":0.93,"4":1.01,"5":1.02,"6":1.00},
{"i":975,"c":3,"1":0.95,"2":1.00,"3":0.97,"4":0.97,"5":0.99,"6":0.96},
{"i":980,"c":3,"1":0.92,"2":1.03,"3":0.99,"4":0.99,"5":1.03,"6":0.95},
{"i":985,"c":3,"1":0.96,"2":0.99,"3":0.95,"4":0.98,"5":1.00,"6":0.98},
{"i":990,"c":3,"1":0.93,"2":1.02,"3":0.98,"4":1.08,"5":1.04,"6":0.93},
{"i":995,"c":3,"1":0.90,"2":0.97,"3":1.01,"4":1.13,"5":1.01,"6":0.90},
{"i":1000,"c":3,"1":0.92,"2":1.01,"3":1.03,"4":1.05,"5":1.00,"6":0.91}
]},
"transform":[{"fold":["1","2","3","4","5","6"],"as":["p","v"]}],
"facet":{"field":"p","type":"nominal","header":{"title":null,"labelExpr":"'sigma_gamma[' + datum.value + ']'","labelFont":"DejaVu Sans","labelFontWeight":"bold","labelFontSize":14,"labelColor":"#000000","labelPadding":3}},
"columns":3,
"spacing":{"column":11,"row":2},
"resolve":{"scale":{"y":"independent"},"axis":{"x":"independent","y":"independent"}},
"spec":{
"width":197,"height":175,
"mark":{"type":"line","strokeWidth":1.5},
"encoding":{
"x":{"field":"i","type":"quantitative","scale":{"domain":[475,1025],"nice":false,"zero":false},"axis":{"values":[500,600,700,800,900,1000],"format":"d","labelFlush":false,"labelOverlap":false,"title":null}},
"y":{"field":"v","type":"quantitative","scale":{"zero":false,"nice":false,"padding":9},"axis":{"title":null,"format":".1f","tickCount":4}},
"color":{"field":"c","type":"nominal","scale":{"domain":[1,2,3],"range":["#e66101","#b2abd2","#5e3c99"]},"legend":{"title":"chain","orient":"none","legendX":703,"legendY":164,"symbolType":"stroke","symbolSize":441,"symbolStrokeWidth":1.5,"clipHeight":15,"rowPadding":2,"labelOffset":12,"titlePadding":4}}
}
},
"config":{
"view":{"stroke":null},
"font":"DejaVu Sans",
"axis":{"grid":false,"domainColor":"#000000","domainWidth":1.5,"tickColor":"#333333","tickSize":4,"labelColor":"#4d4d4d","labelFontSize":12,"labelFont":"DejaVu Sans","labelPadding":3},
"legend":{"titleFontWeight":"normal","titleFontSize":12,"titleColor":"#333333","titleFont":"DejaVu Sans","labelFontSize":12,"labelColor":"#333333","labelFont":"DejaVu Sans"}
}
}
